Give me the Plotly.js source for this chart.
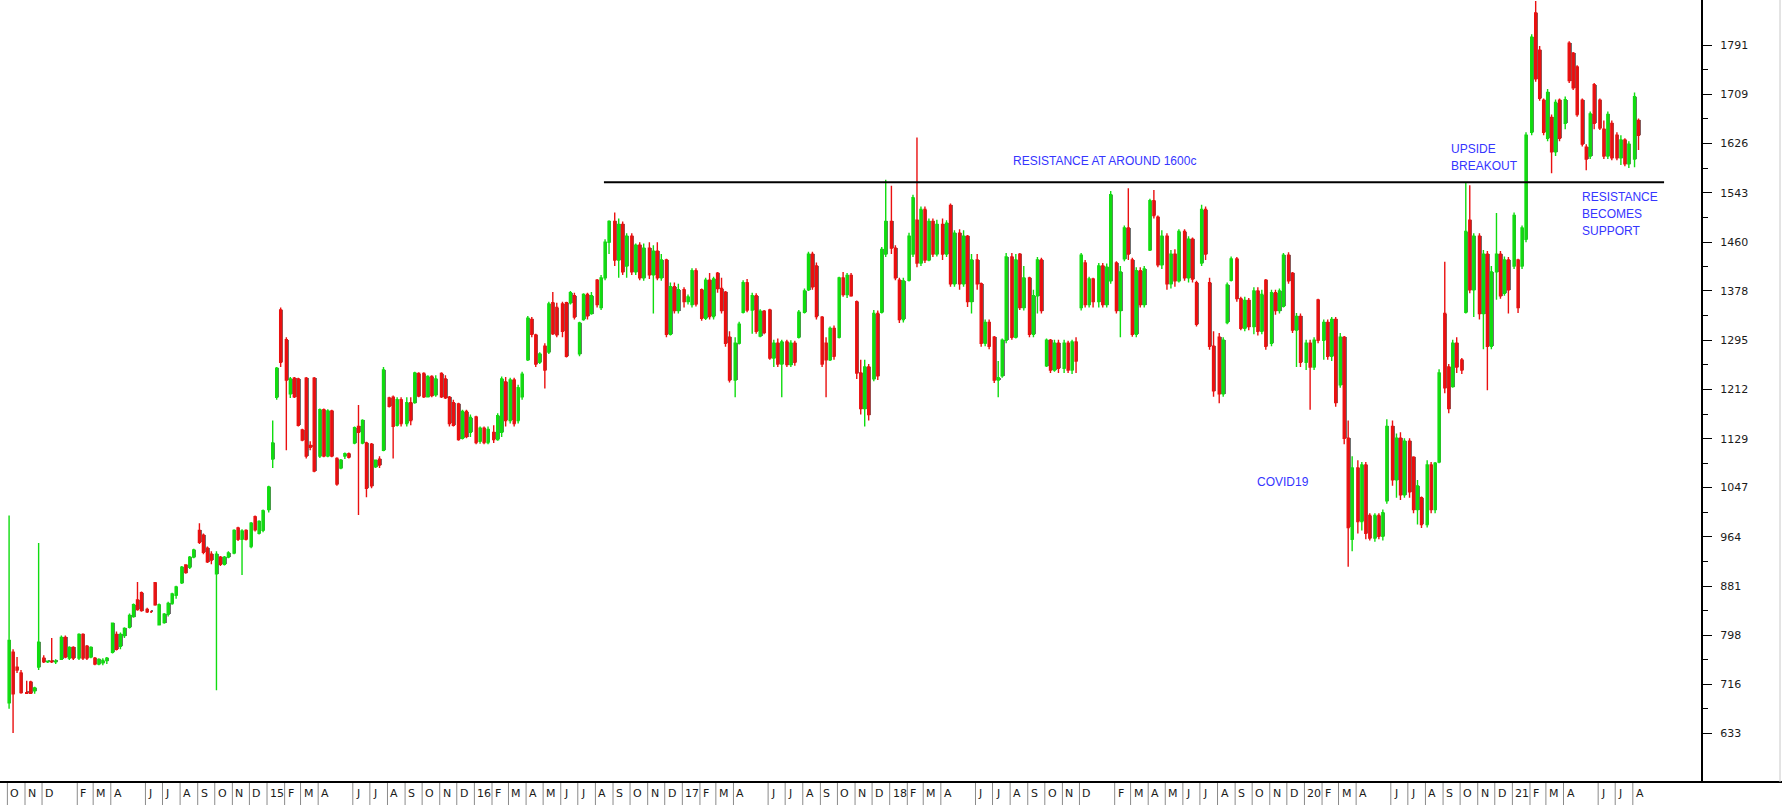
<!DOCTYPE html>
<html>
<head>
<meta charset="utf-8">
<script src="https://cdn.plot.ly/plotly-3.0.1.min.js"></script>
<style>
  html, body { margin: 0; padding: 0; background: #ffffff; overflow: hidden; }
  #chart { width: 1782px; height: 805px; }
</style>
</head>
<body>
<div id="chart"></div>
<script>
// ---- data: weekly candles, four per month ----
const months = [
  "2013-10","2013-11","2013-12",
  "2014-01","2014-02","2014-03","2014-04","2014-05","2014-06","2014-07","2014-08","2014-09","2014-10","2014-11","2014-12",
  "2015-01","2015-02","2015-03","2015-04","2015-05","2015-06","2015-07","2015-08","2015-09","2015-10","2015-11","2015-12",
  "2016-01","2016-02","2016-03","2016-04","2016-05","2016-06","2016-07","2016-08","2016-09","2016-10","2016-11","2016-12",
  "2017-01","2017-02","2017-03","2017-04","2017-05","2017-06","2017-07","2017-08","2017-09","2017-10","2017-11","2017-12",
  "2018-01","2018-02","2018-03","2018-04","2018-05","2018-06","2018-07","2018-08","2018-09","2018-10","2018-11","2018-12",
  "2019-01","2019-02","2019-03","2019-04","2019-05","2019-06","2019-07","2019-08","2019-09","2019-10","2019-11","2019-12",
  "2020-01","2020-02","2020-03","2020-04","2020-05","2020-06","2020-07","2020-08","2020-09","2020-10","2020-11","2020-12",
  "2021-01","2021-02","2021-03","2021-04","2021-05","2021-06","2021-07","2021-08"
];
const weekDays = ["04","11","18","25"];

const open = [
  685,770,745,735, 702,720,705,745, 760,754,755,754,
  758,795,760,778, 760,800,780,762, 760,750,752,756, 770,800,780,798, 812,830,858,870, 842,838,887,816,
  820,834,852,866, 887,917,913,930, 975,967,945,935, 902,930,918,930, 937,979,960,975, 948,998,970,975,
  1010,1095,1199,1346, 1296,1205,1231,1230, 1144,1231,1118,1231, 1100,1178,1100,1176, 1096,1080,1100,1104, 1122,1150,1122,1122,
  1120,1082,1095,1110, 1198,1199,1152,1195, 1155,1190,1190,1239, 1239,1200,1234,1203, 1239,1230,1199,1190, 1188,1130,1175,1140,
  1166,1125,1147,1123, 1140,1128,1140,1225, 1160,1228,1160,1200, 1262,1330,1304,1258, 1285,1275,1358,1350, 1356,1358,1358,1370,
  1272,1330,1372,1340, 1396,1350,1400,1460, 1495,1430,1490,1420, 1470,1410,1455,1400, 1450,1405,1445,1400, 1430,1305,1385,1345,
  1380,1360,1355,1412, 1380,1332,1396,1335, 1408,1382,1376,1300, 1228,1290,1342,1392, 1346,1370,1302,1344, 1346,1265,1290,1255,
  1292,1254,1290,1300, 1342,1380,1440,1420, 1334,1290,1262,1315, 1300,1400,1372,1404, 1360,1240,1180,1250, 1230,1340,1342,1440,
  1495,1450,1396,1330, 1396,1440,1497,1425, 1515,1430,1495,1440, 1490,1440,1522,1390, 1475,1390,1470,1360, 1430,1390,1290,1325,
  1300,1228,1235,1295, 1435,1300,1440,1350, 1400,1305,1370,1430, 1252,1295,1245,1290, 1248,1290,1245,1292, 1350,1425,1355,1398,
  1360,1420,1355,1395, 1425,1345,1432,1484, 1430,1305,1412,1355, 1447,1530,1502,1422, 1470,1390,1440,1395, 1478,1400,1465,1392,
  1425,1515,1392,1285, 1300,1205,1325,1396, 1432,1365,1315,1362, 1318,1378,1310,1396, 1290,1375,1345,1352, 1438,1408,1312,1335,
  1258,1290,1250,1363, 1295,1325,1268,1330, 1220,1300,1130,960, 1080,990,1085,1000, 962,1000,965,1025, 1150,1060,1130,1035,
  1125,1098,1010,1030, 985,1085,1010,1090, 1340,1250,1217,1290, 1262,1342,1497,1380, 1470,1340,1440,1285, 1410,1440,1374,1430,
  1420,1430,1420,1465, 1645,1846,1783,1699, 1635,1670,1612,1699, 1660,1795,1778,1755, 1699,1620,1605,1725, 1699,1650,1605,1660,
  1640,1602,1632,1592, 1600,1665
];
const high = [
  1000,775,762,740, 722,722,712,954, 765,756,794,758,
  798,798,780,780, 802,802,782,780, 762,760,760,762, 820,805,803,812, 835,852,888,872, 845,840,888,852,
  836,855,870,882, 915,918,932,944, 987,970,948,940, 940,932,932,940, 977,981,977,977, 989,1000,992,1010,
  1050,1160,1250,1350, 1300,1233,1233,1232, 1146,1233,1125,1233, 1180,1180,1179,1178, 1098,1095,1106,1106, 1150,1186,1162,1124,
  1122,1094,1100,1250, 1200,1202,1199,1199, 1199,1199,1242,1241, 1241,1236,1236,1236, 1241,1236,1201,1195, 1190,1178,1178,1170,
  1168,1150,1150,1150, 1152,1172,1234,1233, 1232,1232,1220,1242, 1336,1334,1306,1275, 1290,1360,1376,1358, 1360,1360,1378,1375,
  1326,1374,1375,1376, 1398,1405,1465,1497, 1510,1500,1495,1475, 1475,1458,1460,1458, 1460,1455,1460,1440, 1432,1392,1392,1390,
  1384,1372,1416,1416, 1382,1400,1408,1402, 1410,1400,1378,1310, 1300,1326,1396,1398, 1375,1374,1347,1346, 1348,1296,1298,1296,
  1296,1295,1294,1346, 1382,1444,1444,1426, 1336,1300,1318,1320, 1402,1410,1408,1408, 1362,1262,1262,1255, 1346,1345,1452,1565,
  1555,1455,1400,1400, 1476,1540,1636,1520, 1520,1500,1500,1498, 1500,1497,1525,1480, 1482,1480,1472,1440, 1440,1392,1330,1330,
  1302,1260,1298,1442, 1442,1440,1442,1420, 1402,1380,1435,1434, 1298,1297,1296,1296, 1296,1294,1296,1300, 1442,1430,1402,1400,
  1425,1425,1424,1546, 1428,1420,1488,1551, 1434,1418,1418,1420, 1533,1548,1505,1480, 1475,1447,1448,1482, 1482,1470,1468,1395,
  1523,1520,1400,1310, 1307,1300,1392,1436, 1435,1368,1368,1366, 1384,1384,1380,1398, 1380,1380,1382,1442, 1443,1410,1341,1340,
  1296,1296,1300,1365, 1330,1330,1334,1334, 1307,1302,1160,1100, 1093,1090,1090,1004, 1004,1004,1010,1162, 1160,1138,1140,1130,
  1130,1100,1060,1032, 1093,1090,1090,1246, 1427,1255,1296,1300, 1265,1560,1556,1475, 1475,1447,1445,1420, 1509,1445,1436,1435,
  1510,1432,1488,1645, 1810,1866,1790,1702, 1718,1675,1700,1702, 1705,1798,1780,1758, 1702,1625,1680,1728, 1702,1665,1680,1665,
  1645,1640,1635,1630, 1712,1668
];
const low = [
  675,634,735,700, 700,700,700,740, 752,752,752,750,
  757,760,757,757, 757,757,757,760, 748,748,748,750, 768,773,775,794, 810,828,840,838, 836,836,848,815,
  818,830,850,860, 885,902,910,928, 952,935,920,918, 706,915,916,928, 935,957,900,958, 945,973,968,972,
  1005,1080,1195,1250, 1110,1198,1198,1150, 1125,1096,1110,1073, 1097,1098,1098,1098, 1050,1078,1095,1096, 1120,1001,1120,1031,
  1046,1080,1080,1108, 1182,1096,1150,1150, 1150,1152,1188,1199, 1198,1199,1199,1200, 1198,1196,1150,1150, 1126,1128,1130,1132,
  1120,1121,1120,1120, 1122,1126,1132,1150, 1155,1150,1155,1195, 1260,1300,1250,1255, 1214,1272,1304,1300, 1300,1266,1355,1330,
  1268,1328,1330,1338, 1350,1346,1396,1440, 1420,1400,1405,1400, 1405,1405,1396,1395, 1398,1340,1396,1395, 1300,1303,1340,1340,
  1350,1355,1350,1352, 1328,1329,1330,1330, 1375,1340,1284,1224, 1199,1288,1340,1342, 1306,1306,1300,1305, 1262,1250,1250,1199,
  1250,1250,1252,1298, 1340,1378,1380,1330, 1250,1199,1260,1262, 1298,1368,1366,1368, 1230,1170,1150,1160, 1226,1228,1340,1435,
  1440,1396,1324,1325, 1394,1435,1418,1420, 1425,1428,1435,1436, 1430,1435,1385,1385, 1380,1385,1351,1340, 1380,1284,1285,1280,
  1223,1199,1232,1290, 1296,1298,1346,1345, 1300,1300,1340,1340, 1250,1240,1242,1240, 1240,1240,1238,1240, 1345,1350,1350,1350,
  1350,1350,1350,1390, 1340,1300,1428,1430, 1301,1300,1350,1350, 1445,1500,1418,1415, 1380,1382,1385,1392, 1395,1392,1392,1318,
  1420,1430,1279,1200, 1189,1200,1322,1394, 1360,1312,1310,1312, 1305,1303,1305,1279, 1285,1338,1340,1350, 1390,1307,1250,1250,
  1245,1178,1245,1290, 1262,1262,1260,1183, 1215,1120,914,940, 970,975,960,958, 956,960,958,1020, 1050,1030,1026,1030,
  1030,1004,985,979, 980,1004,1004,1088, 1206,1172,1215,1240, 1238,1340,1374,1334, 1330,1280,1211,1280, 1363,1365,1370,1340,
  1415,1341,1415,1460, 1640,1730,1698,1640, 1630,1576,1605,1630, 1650,1728,1716,1671, 1621,1581,1600,1650, 1649,1600,1600,1598,
  1598,1590,1588,1585, 1586,1615
];
const close = [
  790,700,740,702, 701,701,710,787, 754,755,754,755,
  795,762,778,760, 800,760,760,778, 750,758,756,760, 819,775,800,810, 832,850,842,840, 838,838,850,850,
  834,852,868,880, 913,904,930,942, 955,938,922,925, 935,918,930,937, 975,960,974,960, 987,976,990,1008,
  1048,1122,1248,1258, 1228,1230,1200,1152, 1127,1100,1115,1075, 1178,1100,1176,1100, 1053,1093,1104,1098, 1148,1140,1160,1046,
  1050,1093,1085,1245, 1184,1150,1195,1155, 1190,1160,1240,1201, 1200,1234,1202,1230, 1200,1198,1155,1152, 1128,1175,1133,1165,
  1123,1147,1123,1145, 1128,1168,1230,1160, 1228,1155,1215,1238, 1332,1305,1255,1272, 1245,1356,1306,1304, 1310,1268,1375,1334,
  1324,1372,1336,1370, 1355,1400,1460,1495, 1430,1490,1410,1470, 1410,1455,1400,1450, 1405,1445,1400,1430, 1305,1385,1345,1380,
  1360,1368,1412,1356, 1332,1396,1335,1398, 1382,1345,1290,1228, 1290,1322,1392,1346, 1370,1310,1344,1308, 1265,1290,1255,1292,
  1254,1290,1258,1342, 1378,1440,1385,1335, 1255,1262,1315,1268, 1400,1372,1404,1370, 1240,1180,1250,1170, 1340,1235,1448,1495,
  1450,1400,1330,1395, 1470,1535,1425,1515, 1430,1495,1440,1490, 1440,1492,1390,1475, 1390,1470,1360,1430, 1390,1290,1325,1285,
  1228,1232,1295,1435, 1300,1430,1350,1400, 1305,1370,1430,1345, 1295,1245,1290,1248, 1290,1245,1292,1260, 1438,1355,1398,1360,
  1420,1355,1418,1540, 1345,1410,1484,1440, 1305,1412,1355,1415, 1530,1505,1422,1470, 1390,1440,1395,1478, 1400,1465,1398,1322,
  1515,1440,1285,1210, 1205,1295,1388,1432, 1365,1315,1362,1318, 1378,1310,1372,1285, 1375,1345,1378,1438, 1395,1312,1335,1258,
  1290,1250,1295,1295, 1325,1268,1330,1190, 1300,1130,980,1080, 990,1085,970,962, 1000,965,1005,1150, 1060,1130,1035,1125,
  1040,1010,1050,985, 1085,1010,1088,1240, 1215,1180,1290,1250, 1245,1478,1380,1470, 1340,1440,1285,1410, 1440,1370,1430,1380,
  1505,1350,1484,1640, 1805,1735,1702,1645, 1712,1612,1695,1635, 1700,1732,1720,1675, 1625,1600,1676,1660, 1652,1605,1675,1602,
  1602,1632,1592,1625, 1705,1640
];

const yTicks = [633, 716, 798, 881, 964, 1047, 1129, 1212, 1295, 1378, 1460, 1543, 1626, 1709, 1791];

const monthTickDates = [
  "2013-09","2013-10","2013-11","2013-12",
  "2014-02","2014-03","2014-04","2014-06","2014-07","2014-08","2014-09","2014-10","2014-11","2014-12",
  "2015-01","2015-02","2015-03","2015-04","2015-06","2015-07","2015-08","2015-09","2015-10","2015-11","2015-12",
  "2016-01","2016-02","2016-03","2016-04","2016-05","2016-06","2016-07","2016-08","2016-09","2016-10","2016-11","2016-12",
  "2017-01","2017-02","2017-03","2017-04","2017-06","2017-07","2017-08","2017-09","2017-10","2017-11","2017-12",
  "2018-01","2018-02","2018-03","2018-04","2018-06","2018-07","2018-08","2018-09","2018-10","2018-11","2018-12",
  "2019-02","2019-03","2019-04","2019-05","2019-06","2019-07","2019-08","2019-09","2019-10","2019-11","2019-12",
  "2020-01","2020-02","2020-03","2020-04","2020-06","2020-07","2020-08","2020-09","2020-10","2020-11","2020-12",
  "2021-01","2021-02","2021-03","2021-04","2021-06","2021-07","2021-08"
];
const monthTickText = [
  "S","O","N","D",
  "F","M","A","J","J","A","S","O","N","D",
  "15","F","M","A","J","J","A","S","O","N","D",
  "16","F","M","A","M","J","J","A","S","O","N","D",
  "17","F","M","A","J","J","A","S","O","N","D",
  "18","F","M","A","J","J","A","S","O","N","D",
  "F","M","A","M","J","J","A","S","O","N","D",
  "20","F","M","A","J","J","A","S","O","N","D",
  "21","F","M","A","J","J","A"
];

const resistanceLevel = 1561;

// ---- build ----
const dates = open.map((_, i) => months[Math.floor(i / 4)] + "-" + weekDays[i % 4]);
const DAY = 86400000;

const GREEN = "#10dc10";
const RED = "#ea1010";

// grey "3D" shadow on the right side of each candle body
const shadowX = dates.map(d => new Date(new Date(d + "T00:00:00Z").getTime() + 2.2 * DAY).toISOString().slice(0, 10));
const shadow = {
  type: "bar",
  x: shadowX,
  base: open.map((o, i) => Math.min(o, close[i])),
  y: open.map((o, i) => Math.max(Math.abs(close[i] - o), 3)),
  width: dates.map(() => 4.2 * DAY),
  marker: { color: "#6f6f6f", line: { width: 0 } },
  hoverinfo: "none",
  showlegend: false
};

const trace = {
  type: "candlestick",
  x: dates, open: open, high: high, low: low, close: close,
  increasing: { line: { color: GREEN, width: 1.4 }, fillcolor: GREEN },
  decreasing: { line: { color: RED, width: 1.4 }, fillcolor: RED },
  whiskerwidth: 0,
  hoverinfo: "none",
  showlegend: false
};

const PLOT_W = 1701, PLOT_H = 782;
const minorTicks = [];
for (let i = 0; i < yTicks.length - 1; i++) minorTicks.push((yTicks[i] + yTicks[i + 1]) / 2);

const shapes = [];
const annotations = [];
monthTickDates.forEach((m, i) => {
  shapes.push({
    type: "line", xref: "x", yref: "paper",
    x0: m + "-01", x1: m + "-01", y0: 0, y1: -23 / PLOT_H,
    line: { color: "#8a8a8a", width: 1 }, layer: "above"
  });
  annotations.push({
    xref: "x", yref: "paper", x: m + "-01", y: -11 / PLOT_H,
    xanchor: "left", yanchor: "middle", xshift: 1,
    text: monthTickText[i], showarrow: false,
    font: { family: "DejaVu Sans, Arial, sans-serif", size: 11, color: "#1a1a1a" }
  });
});

// resistance line
shapes.push({
  type: "line", xref: "x", yref: "y",
  x0: "2016-08-16", x1: "2021-09-25", y0: resistanceLevel, y1: resistanceLevel,
  line: { color: "#000000", width: 2 }, layer: "above"
});
// bottom frame line across full width, and faint outer border
shapes.push({
  type: "line", xref: "paper", yref: "paper",
  x0: 0, x1: 1782 / PLOT_W, y0: 0, y1: 0,
  line: { color: "#000000", width: 2 }
});
shapes.push({
  type: "line", xref: "paper", yref: "paper",
  x0: 1780 / PLOT_W, x1: 1780 / PLOT_W, y0: 0, y1: 1,
  line: { color: "#c8c8c8", width: 1 }
});

const blue = { family: "Liberation Sans, Arial, sans-serif", size: 12, color: "#3535ff" };
function note(text, px, py) {
  annotations.push({
    xref: "paper", yref: "paper", x: px / PLOT_W, y: 1 - py / PLOT_H,
    xanchor: "left", yanchor: "middle", text: text, showarrow: false,
    font: blue, borderpad: 0
  });
}
note("RESISTANCE AT AROUND 1600c", 1012, 161);
note("UPSIDE", 1450, 149);
note("BREAKOUT", 1450, 166.5);
note("RESISTANCE", 1581, 197);
note("BECOMES", 1581, 214);
note("SUPPORT", 1581, 231);
note("COVID19", 1256, 482);

const layout = {
  width: 1782, height: 805,
  margin: { l: 0, r: 1782 - PLOT_W, t: 0, b: 805 - PLOT_H, pad: 0 },
  paper_bgcolor: "#ffffff", plot_bgcolor: "#ffffff",
  showlegend: false,
  bargap: 0,
  xaxis: {
    type: "date",
    range: ["2013-09-18", "2021-11-29"],
    rangeslider: { visible: false },
    showgrid: false, zeroline: false,
    showticklabels: false, ticks: "",
    showline: false,
    fixedrange: true
  },
  yaxis: {
    side: "right",
    range: [551.6, 1867.6],
    showgrid: false, zeroline: false,
    showline: true, linecolor: "#000000", linewidth: 2,
    tickmode: "array", tickvals: yTicks, ticktext: yTicks.map(String),
    ticks: "outside", ticklen: 9, tickwidth: 1, tickcolor: "#000000",
    ticklabelstandoff: 6,
    tickfont: { family: "DejaVu Sans, Arial, sans-serif", size: 11, color: "#1a1a1a" },
    minor: { tickmode: "array", tickvals: minorTicks, ticks: "outside", ticklen: 5, tickwidth: 1, tickcolor: "#000000", showgrid: false },
    fixedrange: true
  },
  shapes: shapes,
  annotations: annotations
};

Plotly.newPlot("chart", [shadow, trace], layout, { staticPlot: true, displayModeBar: false });
</script>
</body>
</html>
